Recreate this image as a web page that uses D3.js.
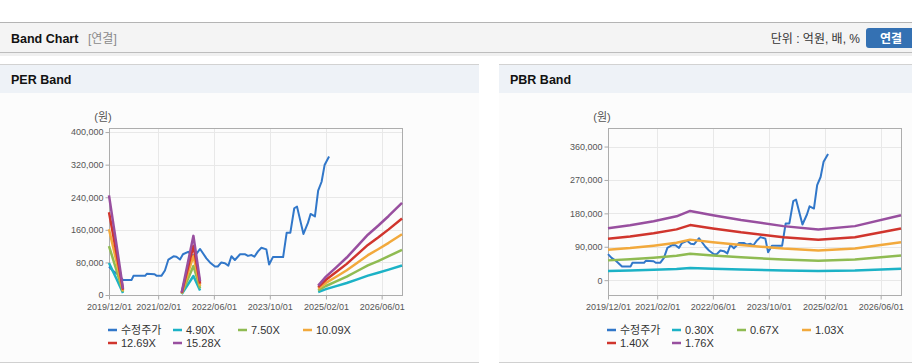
<!DOCTYPE html>
<html>
<head>
<meta charset="utf-8">
<script src="https://cdn.jsdelivr.net/npm/d3@7"></script>
<style>
body { margin:0; background:#fff; }
svg { display:block; font-family:"Liberation Sans", Arial, "Noto Sans CJK KR", sans-serif; }
</style>
</head>
<body>
<svg class="chart" width="912" height="364"></svg>
<script>
// 수정주가 (same for both charts)
var priceDates = ["2019-12-01","2020-01-01","2020-02-05","2020-04-01","2020-06-15","2020-07-01","2020-10-10","2020-10-25",
  "2021-01-01","2021-01-20","2021-03-01","2021-04-01","2021-05-01","2021-06-15","2021-07-10","2021-08-10","2021-09-05",
  "2021-10-20","2021-11-20","2021-12-20","2022-02-01","2022-03-28","2022-04-28","2022-06-10","2022-07-05","2022-08-05",
  "2022-09-05","2022-10-05","2022-11-01","2022-12-01","2023-01-15","2023-03-01","2023-03-25","2023-04-25","2023-05-20",
  "2023-06-20","2023-07-20","2023-09-01","2023-09-25","2023-10-28","2024-01-25","2024-02-25","2024-03-28","2024-05-01",
  "2024-05-25","2024-07-20","2024-08-28","2024-09-20","2024-10-28","2024-11-25","2024-12-25","2025-01-20","2025-02-28"];
var priceValues = [70000,60000,53000,37000,37000,47000,47000,52000,
  51000,47000,47000,60000,87000,95000,94000,87000,100000,
  106000,98000,97000,113000,90000,80000,70000,70000,80000,
  78000,72000,95000,86000,100000,100000,96000,98000,94000,
  107000,116000,112000,75000,93000,93000,153000,153000,213000,
  217000,150000,177000,199000,193000,256000,278000,319000,340000];

// PER band (null = no band, EPS negative)
var perDates = ["2019-12-01","2020-02-01","2020-04-01","2021-01-01",
  "2021-08-25","2021-12-05","2022-02-01","2023-06-01",
  "2024-11-25","2025-02-01","2025-05-01","2025-08-01","2025-11-01","2026-02-01","2026-05-01","2026-08-01","2026-11-25"];
var per490 = [78400,41700,4900,null, 2000,46600,10800,null, 7400,14400,21800,29500,38500,47500,54500,62200,72500];
var per750 = [120000,63800,7500,null, 3000,71300,16500,null, 11300,22100,33400,45200,58900,72600,83400,95200,110900];
var per1009 = [161400,85800,10100,null, 4000,95900,22200,null, 15200,29700,44900,60800,79200,97700,112300,128100,149200];
var per1269 = [203000,107900,12700,null, 5100,120600,27900,null, 19100,37400,56500,76400,99700,122900,141200,161100,187700];
var per1528 = [244500,129900,15300,null, 6100,145200,33600,null, 23000,45000,68000,92000,120000,148000,170000,194000,226000];
var perLabels = ["수정주가","4.90X","7.50X","10.09X","12.69X","15.28X"];
var perTicks = [0,80000,160000,240000,320000,400000];

// PBR band
var pbrDates = ["2019-12-01","2020-06-10","2021-01-01","2021-07-20","2021-11-15","2022-06-01",
  "2023-02-01","2024-02-05","2024-12-05","2025-10-20","2026-11-25"];
var pbr030 = [25000,26000,28000,30000,32500,30500,28500,26000,24500,26000,31000];
var pbr067 = [53300,56300,60500,65500,71000,66600,61600,55400,52000,55400,66600];
var pbr103 = [81900,86500,93000,100600,109200,102400,94800,85200,79900,85200,102400];
var pbr140 = [111300,117600,126400,136800,148400,139200,128800,115800,108600,115800,139200];
var pbr176 = [139900,147800,158900,172000,186600,174900,161900,145600,136600,145600,174900];
var pbrLabels = ["수정주가","0.30X","0.67X","1.03X","1.40X","1.76X"];
var pbrTicks = [0,90000,180000,270000,360000];

var xTicks = ["2019-12-01","2021-02-01","2022-06-01","2023-10-01","2025-02-01","2026-06-01"];
var colors = ["#3177c9","#1cb2c6","#8fbb52","#f2a93c","#d0352d","#984f9f"];

var parse = d3.timeParse("%Y-%m-%d");
var svg = d3.select(".chart");

// top bar
svg.append("rect").attr("x",0).attr("y",22).attr("width",912).attr("height",31).attr("fill","#f4f4f4");
svg.append("line").attr("x1",0).attr("x2",912).attr("y1",22.5).attr("y2",22.5).attr("stroke","#b4b4b4");
svg.append("line").attr("x1",0).attr("x2",912).attr("y1",52.5).attr("y2",52.5).attr("stroke","#bdbdbd");
svg.append("rect").attr("x",0).attr("y",53).attr("width",912).attr("height",3).attr("fill","#f0f0f0");
svg.append("text").attr("x",11).attr("y",43).text("Band Chart")
  .style("font-size","12.5px").style("font-weight","bold").attr("fill","#111");
svg.append("text").attr("x",88).attr("y",43).text("[연결]")
  .style("font-size","12px").attr("fill","#8a8a8a");
svg.append("text").attr("x",860).attr("y",43).attr("text-anchor","end").text("단위 : 억원, 배, %")
  .style("font-size","12px").attr("fill","#333");
svg.append("rect").attr("x",866).attr("y",28).attr("width",52).attr("height",20).attr("rx",3).attr("fill","#3471b3");
svg.append("text").attr("x",891).attr("y",42.5).attr("text-anchor","middle").text("연결")
  .style("font-size","12px").style("font-weight","bold").attr("fill","#fff");

function panel(px, pw, title) {
  svg.append("rect").attr("x",px).attr("y",64).attr("width",pw).attr("height",299).attr("fill","#fcfcfc");
  svg.append("rect").attr("x",px).attr("y",64).attr("width",pw).attr("height",29).attr("fill","#eef2f7");
  svg.append("line").attr("x1",px).attr("x2",px+pw).attr("y1",64.5).attr("y2",64.5).attr("stroke","#d2d2d2");
  svg.append("line").attr("x1",px).attr("x2",px+pw).attr("y1",362.5).attr("y2",362.5).attr("stroke","#d0d0d0");
  svg.append("text").attr("x",px+11).attr("y",84).text(title)
    .style("font-size","12.5px").style("font-weight","bold").attr("fill","#111");
}

function bandChart(left, yDomain, yTicks, dates, bands, labels) {
  var top = 128, bottom = 295, right = left + 293;
  var x = d3.scaleTime().domain([parse("2019-12-01"), parse("2026-11-25")]).range([left, right]);
  var y = d3.scaleLinear().domain(yDomain).range([bottom, top]);
  var g = svg.append("g");

  // grid
  g.selectAll(".hg").data(yTicks).enter().append("line")
    .attr("x1",left).attr("x2",right)
    .attr("y1",function(d){ return Math.round(y(d))+0.5; }).attr("y2",function(d){ return Math.round(y(d))+0.5; })
    .attr("stroke","#e8e8e8");
  g.selectAll(".vg").data(xTicks).enter().append("line")
    .attr("x1",function(d){ return Math.round(x(parse(d)))+0.5; }).attr("x2",function(d){ return Math.round(x(parse(d)))+0.5; })
    .attr("y1",top).attr("y2",bottom).attr("stroke","#e8e8e8");

  var yAxis = g.append("g").attr("transform","translate("+(left+0.5)+",0)")
    .call(d3.axisLeft(y).tickValues(yTicks).tickFormat(d3.format(",")).tickSize(4).tickPadding(2));
  var xAxis = g.append("g").attr("transform","translate(0,"+(bottom+0.5)+")")
    .call(d3.axisBottom(x).tickValues(xTicks.map(parse)).tickFormat(d3.timeFormat("%Y/%m/%d")).tickSize(4).tickPadding(4));
  [yAxis, xAxis].forEach(function(a) {
    a.select(".domain").remove();
    a.selectAll("line").attr("stroke","#aaa");
    a.selectAll("text").attr("fill","#555").style("font-size","9px").style("font-family","inherit");
  });
  g.append("rect").attr("x",left+0.5).attr("y",top+0.5).attr("width",right-left).attr("height",bottom-top)
    .attr("fill","none").attr("stroke","#adadad");

  g.append("text").attr("x",left-6).attr("y",121).attr("text-anchor","middle").text("(원)")
    .style("font-size","11px").attr("fill","#555");

  var line = d3.line()
    .defined(function(d){ return d[1] != null; })
    .x(function(d){ return x(parse(d[0])); })
    .y(function(d){ return y(d[1]); });

  g.append("path").datum(d3.zip(priceDates, priceValues))
    .attr("d", line).attr("fill","none").attr("stroke",colors[0]).attr("stroke-width",2)
    .attr("stroke-linejoin","round");

  bands.forEach(function(b, i) {
    g.append("path").datum(d3.zip(dates, b))
      .attr("d", line).attr("fill","none").attr("stroke",colors[i+1]).attr("stroke-width",2.5)
      .attr("stroke-linejoin","round");
  });

  // legend
  var leg = g.selectAll(".leg").data(labels).enter().append("g")
    .attr("transform",function(d,i){ return "translate("+(left-1+(i%4)*65)+","+(330+Math.floor(i/4)*13)+")"; });
  leg.append("line").attr("x1",0).attr("x2",9).attr("y1",0).attr("y2",0)
    .attr("stroke",function(d,i){ return colors[i]; }).attr("stroke-width",2.5);
  leg.append("text").attr("x",13).attr("y",4).text(function(d){ return d; })
    .style("font-size","11px").attr("fill","#333");
}

panel(0, 479, "PER Band");
panel(499, 413, "PBR Band");
bandChart(109, [0,410000], perTicks, perDates, [per490, per750, per1009, per1269, per1528], perLabels);
bandChart(608, [-40000,410000], pbrTicks, pbrDates, [pbr030, pbr067, pbr103, pbr140, pbr176], pbrLabels);
</script>
</body>
</html>
